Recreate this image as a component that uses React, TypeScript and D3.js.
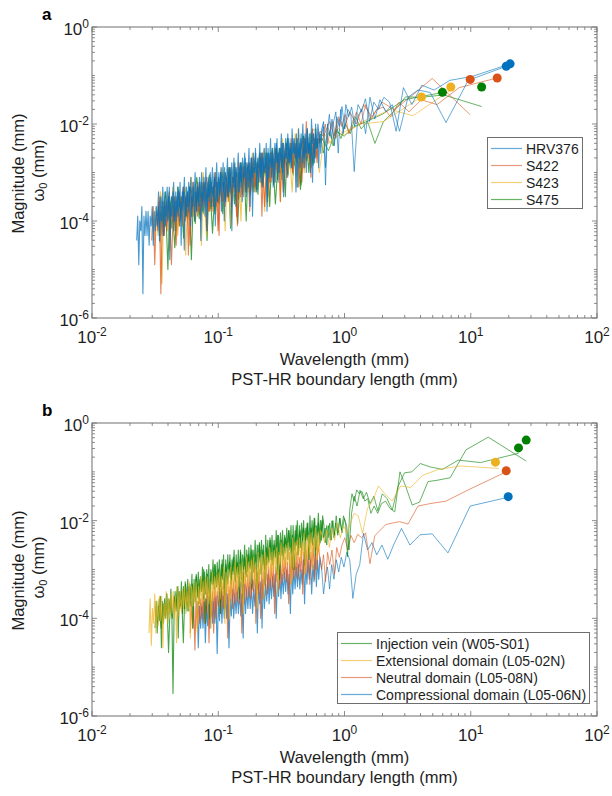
import React from "react";
import * as d3 from "d3";

// ---------------- shared ----------------
const COLORS: Record<string, string> = {
  blue: "#0072BD",
  orange: "#D95319",
  yellow: "#EDB120",
  green: "#008000",
};
// legend swatches are the line colours as they appear (semi-transparent on white)
const LEGEND_COLORS: Record<string, string> = {
  blue: "#66AAD7",
  orange: "#E8987A",
  yellow: "#F4D079",
  green: "#66B366",
};
const xTickExps = [-2, -1, 0, 1, 2];
const yTickExps = [0, -2, -4, -6];
const xLabel1 = "Wavelength (mm)";
const xLabel2 = "PST-HR boundary length (mm)";

// Each spectrum: boundary length L (mm); magnitudes (log10 mm) at harmonics k=1..K
// (wavelength L/k), then a dense tail of magnitudes (log10 mm) from L/(K+1) down to xMin.

// ---------------- panel a ----------------
const aLegendNames = ["HRV376", "S422", "S423", "S475"];
const aLegendColors = ["blue", "orange", "yellow", "green"];

const aBlue1L = 20.5;
const aBlue1Min = 0.0226;
const aBlue1Head = [-0.76,-1.02,-1.10,-1.30,-1.20,-1.60,-1.25,-2.15,-1.55,-1.45,-1.70,-1.55,-1.95,-1.48,-1.75,-1.60,-2.05,-1.65,-1.85,-1.60,-2.20,-1.70,-2.60,-1.75,-1.95,-2.30,-1.80,-2.10,-2.90,-1.95];
const aBlue1Tail = [
  -2.1,-2.6,-2.2,-2.9,-2.3,-2.5,-2.0,-2.8,-2.4,-3.2,
  -2.2,-2.7,-2.4,-2.6,-2.1,-3.0,-2.3,-2.7,-2.5,-2.8,
  -2.2,-2.9,-2.4,-2.7,-2.3,-3.4,-2.5,-2.6,-2.3,-2.9,
  -2.5,-2.8,-2.3,-3.1,-2.4,-2.7,-2.6,-3.5,-2.4,-2.9,
  -2.5,-3.0,-2.6,-2.8,-2.4,-3.2,-2.7,-3.3,-2.6,-2.9,
  -2.6,-3.1,-2.5,-3.8,-2.6,-3.0,-2.7,-3.3,-2.6,-3.1,
  -2.7,-3.2,-2.8,-3.4,-2.6,-3.0,-2.9,-3.9,-2.7,-3.2,
  -2.8,-3.3,-2.9,-3.5,-2.7,-3.1,-3.0,-3.6,-2.8,-3.3,
  -2.9,-3.4,-3.0,-3.7,-2.8,-3.3,-3.1,-4.2,-2.9,-3.4,
  -3.0,-3.5,-3.1,-3.6,-2.9,-3.4,-3.2,-3.8,-3.0,-3.5,
  -3.1,-3.6,-3.2,-4.1,-3.0,-3.5,-3.3,-3.7,-3.1,-3.6,
  -3.2,-3.7,-3.3,-3.9,-3.1,-3.6,-3.4,-4.4,-3.2,-3.7,
  -3.3,-3.8,-3.4,-4.0,-3.2,-3.7,-3.5,-4.1,-3.3,-3.8,
  -3.4,-3.9,-3.5,-4.6,-3.3,-3.8,-3.6,-4.0,-3.4,-3.9,
  -3.5,-4.0,-3.6,-4.2,-3.4,-3.9,-3.7,-4.8,-3.5,-4.0,
  -3.6,-4.1,-3.7,-4.3,-3.6,-4.0,-3.8,-4.4,-3.7,-4.1,
  -3.7,-4.2,-3.8,-4.5,-3.7,-4.1,-3.9,-4.5,-3.8,-4.3,
  -3.8,-4.3,-3.9,-5.5,-3.7,-4.2,-4.0,-4.9,-3.9,-4.4,
];

const aBlue2L = 19.1;
const aBlue2Min = 0.033;
const aBlue2Head = [-0.81,-1.10,-1.97,-1.35,-1.30,-1.45,-2.15,-1.60,-1.75,-1.50,-1.90,-1.45,-2.20,-1.70,-1.85,-2.98,-1.80,-1.70,-2.10,-1.64,-2.05,-1.85,-2.45,-1.90,-2.25,-2.00,-3.26,-2.05,-2.20,-2.40];
const aBlue2Tail = [
  -2.0,-2.5,-2.1,-2.7,-2.2,-2.4,-1.9,-3.0,-2.2,-2.6,
  -2.1,-2.6,-2.2,-2.9,-2.0,-2.5,-2.3,-2.7,-2.1,-3.3,
  -2.2,-2.7,-2.3,-2.6,-2.1,-2.9,-2.4,-2.8,-2.2,-2.7,
  -2.3,-2.8,-2.4,-3.0,-2.2,-2.7,-2.5,-3.2,-2.3,-2.8,
  -2.4,-2.9,-2.5,-3.1,-2.3,-2.8,-2.6,-3.6,-2.4,-2.9,
  -2.5,-3.0,-2.6,-3.2,-2.4,-2.9,-2.7,-3.3,-2.5,-3.0,
  -2.6,-3.1,-2.7,-3.7,-2.5,-3.0,-2.8,-3.4,-2.6,-3.1,
  -2.7,-3.2,-2.8,-3.4,-2.6,-3.1,-2.9,-3.5,-2.7,-3.2,
  -2.8,-3.3,-2.9,-3.5,-2.7,-3.2,-3.0,-4.0,-2.8,-3.3,
  -2.9,-3.4,-3.0,-3.6,-2.8,-3.3,-3.1,-3.7,-2.9,-3.4,
  -3.0,-3.5,-3.1,-4.2,-2.9,-3.4,-3.2,-3.8,-3.0,-3.5,
  -3.1,-3.6,-3.2,-3.8,-3.0,-3.5,-3.3,-3.9,-3.1,-3.6,
  -3.2,-3.7,-3.3,-3.9,-3.1,-3.6,-3.4,-4.5,-3.2,-3.7,
  -3.3,-3.8,-3.4,-4.0,-3.2,-3.7,-3.5,-4.1,-3.3,-3.8,
  -3.3,-3.9,-3.4,-4.1,-3.3,-3.8,-3.5,-4.3,-3.4,-3.9,
];

const aOrange1L = 16.2;
const aOrange1Min = 0.0297;
const aOrange1Head = [-1.05,-1.25,-1.60,-1.50,-1.75,-1.55,-1.85,-1.65,-1.70,-1.90,-1.60,-2.00,-1.75,-1.95,-2.20,-1.80,-2.05,-1.90,-2.30,-1.95,-2.10,-2.40,-2.00,-2.25,-2.15];
const aOrange1Tail = [
  -2.2,-2.8,-2.3,-2.6,-2.1,-3.1,-2.4,-2.7,-1.95,-2.9,
  -2.3,-2.9,-2.4,-3.3,-2.3,-2.7,-2.5,-3.0,-2.3,-2.8,
  -2.5,-3.1,-2.6,-2.9,-2.4,-3.6,-2.6,-3.0,-2.5,-3.2,
  -2.6,-3.2,-2.7,-3.5,-2.6,-3.0,-2.8,-3.9,-2.6,-3.2,
  -2.8,-3.4,-2.9,-3.3,-2.7,-3.8,-2.9,-3.4,-2.8,-3.5,
  -2.9,-3.5,-3.0,-4.1,-2.9,-3.4,-3.1,-3.7,-2.9,-3.6,
  -3.1,-3.7,-3.2,-3.6,-3.0,-4.3,-3.2,-3.7,-3.1,-3.8,
  -3.2,-3.8,-3.3,-4.2,-3.2,-3.7,-3.4,-4.0,-3.2,-3.9,
  -3.4,-4.0,-3.5,-3.9,-3.3,-4.7,-3.5,-4.0,-3.4,-4.1,
  -3.5,-4.1,-3.6,-4.5,-3.5,-4.0,-3.7,-4.3,-3.5,-4.2,
  -3.7,-4.3,-3.8,-5.5,-3.6,-4.2,-3.8,-4.9,-3.7,-4.4,
];

const aOrange2L = 9.9;
const aOrange2Min = 0.033;
const aOrange2Head = [-1.81,-1.06,-1.45,-1.70,-1.55,-1.85,-1.60,-2.00,-1.75,-2.10,-1.85,-2.25,-1.95,-2.15,-2.35];
const aOrange2Tail = [
  -2.3,-2.7,-2.2,-2.9,-2.4,-2.6,-2.3,-3.2,-2.5,-2.8,
  -2.4,-3.0,-2.5,-2.8,-2.4,-3.4,-2.6,-2.9,-2.5,-3.1,
  -2.6,-3.2,-2.7,-3.7,-2.6,-3.0,-2.8,-3.3,-2.7,-3.4,
  -2.8,-3.4,-2.9,-3.2,-2.8,-3.9,-3.0,-3.4,-2.9,-3.5,
  -3.0,-3.6,-3.1,-4.2,-3.0,-3.5,-3.2,-3.8,-3.1,-3.6,
  -3.2,-3.8,-3.3,-3.7,-3.2,-4.5,-3.4,-3.8,-3.3,-3.9,
  -3.4,-4.0,-3.5,-4.9,-3.4,-3.9,-3.6,-4.3,-3.5,-4.1,
];

const aYellow1L = 6.95;
const aYellow1Min = 0.031;
const aYellow1Head = [-1.30,-1.83,-1.70,-1.85,-1.95,-2.10,-2.23,-2.05,-2.40,-2.20,-3.00,-2.10];
const aYellow1Tail = [
  -2.2,-2.8,-2.3,-3.0,-2.4,-2.6,-2.1,-3.3,-2.4,-2.7,
  -2.4,-3.0,-2.5,-2.8,-2.3,-3.6,-2.6,-2.9,-2.5,-3.1,
  -2.6,-3.2,-2.7,-3.8,-2.6,-3.0,-2.8,-3.3,-2.7,-3.4,
  -2.8,-3.4,-2.9,-3.2,-2.8,-4.0,-3.0,-3.4,-2.9,-3.5,
  -3.0,-3.6,-3.1,-4.2,-3.0,-3.5,-3.2,-3.8,-3.1,-3.6,
  -3.2,-3.8,-3.3,-3.7,-3.2,-4.5,-3.4,-3.8,-3.3,-3.9,
  -3.4,-4.0,-3.5,-4.7,-3.4,-3.9,-3.6,-4.3,-3.5,-4.1,
  -3.6,-4.2,-3.7,-4.1,-3.6,-5.3,-3.8,-4.3,-3.7,-4.4,
];

const aYellow2L = 4.07;
const aYellow2Min = 0.033;
const aYellow2Head = [-1.44,-1.95,-2.00,-2.15,-2.30,-2.50,-2.35];
const aYellow2Tail = [
  -2.3,-2.9,-2.4,-2.7,-2.2,-3.4,-2.5,-2.8,-2.4,-3.0,
  -2.5,-3.1,-2.6,-3.7,-2.5,-2.9,-2.7,-3.2,-2.6,-3.3,
  -2.8,-3.4,-2.9,-3.2,-2.8,-4.1,-3.0,-3.4,-2.9,-3.5,
  -3.0,-3.6,-3.1,-4.3,-3.0,-3.5,-3.2,-3.8,-3.1,-3.6,
  -3.3,-3.9,-3.4,-3.8,-3.3,-4.6,-3.5,-3.9,-3.4,-4.0,
];

const aGreen1L = 12.2;
const aGreen1Min = 0.0346;
const aGreen1Head = [-1.64,-1.40,-1.45,-1.44,-1.75,-1.95,-2.40,-1.95,-2.10,-1.85,-2.20,-2.00,-2.30,-2.10,-2.45,-2.15,-2.30,-2.60,-2.20,-2.50];
const aGreen1Tail = [
  -2.3,-2.75,-2.2,-3.0,-2.45,-2.65,-2.25,-3.25,-2.5,-2.8,
  -2.4,-3.05,-2.55,-2.85,-2.3,-3.5,-2.65,-2.9,-2.5,-3.15,
  -2.6,-3.25,-2.7,-3.7,-2.6,-3.05,-2.85,-3.3,-2.7,-3.45,
  -2.8,-3.4,-2.95,-3.2,-2.85,-4.0,-3.0,-3.45,-2.9,-3.55,
  -3.0,-3.65,-3.1,-4.15,-3.05,-3.5,-3.2,-3.85,-3.1,-3.6,
  -3.2,-3.85,-3.3,-3.75,-3.25,-4.4,-3.4,-3.85,-3.3,-3.95,
  -3.4,-4.05,-3.5,-4.8,-3.45,-3.9,-3.6,-4.35,-3.5,-4.1,
  -3.6,-4.2,-3.7,-4.15,-3.6,-5.0,-3.8,-4.3,-3.7,-4.45,
];

const aGreen2L = 5.97;
const aGreen2Min = 0.036;
const aGreen2Head = [-1.35,-1.50,-1.80,-1.95,-2.05,-2.25,-2.15,-2.55,-2.30];
const aGreen2Tail = [
  -2.35,-2.85,-2.45,-2.75,-2.25,-3.35,-2.55,-2.85,-2.4,-3.05,
  -2.55,-3.15,-2.65,-3.65,-2.5,-2.95,-2.75,-3.25,-2.6,-3.35,
  -2.8,-3.45,-2.9,-3.25,-2.8,-4.05,-3.0,-3.45,-2.9,-3.55,
  -3.0,-3.65,-3.1,-4.25,-3.05,-3.55,-3.2,-3.85,-3.1,-3.65,
  -3.3,-3.95,-3.4,-3.85,-3.3,-4.55,-3.5,-3.95,-3.4,-4.05,
];

// markers: boundary length (mm) vs magnitude (mm)
const aMarkColor = ["blue", "blue", "orange", "orange", "yellow", "yellow", "green", "green"];
const aMarkX = [19.1, 20.5, 9.9, 16.2, 4.07, 6.95, 5.97, 12.2];
const aMarkY = [0.155, 0.174, 0.083, 0.089, 0.036, 0.058, 0.045, 0.058];

// ---------------- panel b ----------------
const bLegendNames = [
  "Injection vein (W05-S01)",
  "Extensional domain (L05-02N)",
  "Neutral domain (L05-08N)",
  "Compressional domain (L05-06N)",
];
const bLegendColors = ["green", "yellow", "orange", "blue"];

const bGreen1L = 27.5;
const bGreen1Min = 0.0316;
const bGreen1Head = [-0.78,-0.29,-0.55,-1.12,-1.17,-1.20,-1.62,-1.68,-1.30,-1.00,-1.82,-1.75,-1.60,-1.65,-1.85,-1.70,-1.85,-1.55,-1.60,-1.40,-1.45,-1.37,-1.60,-1.45,-1.78,-2.74,-2.05,-1.90,-2.20,-1.95,-2.25,-1.90,-2.30,-2.00,-2.40,-2.05,-2.35,-2.10,-2.45,-2.10];
const bGreen1Tail = [
  -1.9,-2.4,-2.0,-2.5,-1.85,-2.3,-2.1,-2.7,-1.95,-2.35,
  -2.0,-2.45,-1.9,-2.6,-2.05,-2.4,-2.15,-2.9,-2.0,-2.4,
  -2.05,-2.55,-2.1,-2.7,-2.0,-2.5,-2.2,-2.6,-2.1,-3.0,
  -2.1,-2.6,-2.2,-2.8,-2.15,-2.65,-2.3,-2.75,-2.2,-2.7,
  -2.25,-2.7,-2.3,-3.1,-2.2,-2.75,-2.4,-2.85,-2.3,-2.8,
  -2.35,-2.85,-2.4,-2.9,-2.3,-3.3,-2.5,-2.9,-2.4,-2.85,
  -2.45,-2.95,-2.5,-3.0,-2.4,-2.9,-2.6,-3.4,-2.5,-2.95,
  -2.55,-3.05,-2.6,-3.1,-2.5,-3.0,-2.7,-3.2,-2.6,-3.6,
  -2.6,-3.15,-2.7,-3.2,-2.6,-3.1,-2.8,-3.3,-2.7,-3.15,
  -2.7,-3.25,-2.8,-3.8,-2.7,-3.2,-2.9,-3.35,-2.8,-3.3,
  -2.85,-3.35,-2.9,-3.4,-2.8,-3.3,-3.0,-4.0,-2.9,-3.4,
  -3.0,-3.5,-3.05,-3.6,-2.95,-3.45,-3.15,-3.7,-3.05,-3.55,
  -3.15,-3.65,-3.2,-4.2,-3.1,-3.6,-3.3,-3.85,-3.2,-3.7,
  -3.3,-3.8,-3.35,-3.9,-3.25,-3.75,-3.45,-4.4,-3.35,-3.85,
  -3.45,-3.95,-5.54,-4.0,-3.4,-3.9,-3.6,-4.1,-3.5,-4.0,
  -3.6,-4.1,-3.65,-4.6,-3.55,-4.05,-3.75,-4.3,-3.65,-4.2,
];

const bGreen2L = 23.9;
const bGreen2Min = 0.033;
const bGreen2Head = [-0.62,-0.81,-0.76,-0.95,-0.90,-0.83,-1.00,-1.02,-1.30,-1.78,-1.55,-1.45,-1.80,-1.50,-1.65,-1.42,-1.55,-1.38,-1.70,-1.50,-1.85,-2.60,-2.10,-1.95,-2.25,-1.95,-2.30,-2.05,-2.35,-2.00,-2.40,-2.10,-2.50,-2.15,-2.35];
const bGreen2Tail = [
  -2.0,-2.45,-2.05,-2.6,-1.95,-2.5,-2.15,-2.8,-2.05,-2.4,
  -2.15,-2.6,-2.2,-2.7,-2.1,-3.0,-2.3,-2.65,-2.2,-2.55,
  -2.35,-2.8,-2.4,-3.2,-2.3,-2.75,-2.5,-2.9,-2.4,-2.85,
  -2.55,-3.0,-2.6,-3.1,-2.5,-3.4,-2.7,-3.05,-2.6,-3.0,
  -2.7,-3.15,-2.75,-3.6,-2.65,-3.1,-2.85,-3.25,-2.75,-3.2,
  -2.85,-3.3,-2.9,-3.4,-2.8,-3.9,-3.0,-3.35,-2.9,-3.3,
  -3.05,-3.5,-3.1,-4.1,-3.0,-3.45,-3.2,-3.6,-3.1,-3.55,
  -3.3,-3.75,-3.35,-3.85,-3.25,-4.5,-3.45,-3.8,-3.35,-3.8,
  -3.55,-4.0,-3.6,-4.7,-3.5,-3.95,-3.7,-4.2,-3.6,-4.1,
];

const bYellowL = 16.7;
const bYellowMin = 0.0283;
const bYellowHead = [-0.93,-0.88,-0.95,-1.07,-1.32,-1.29,-1.60,-1.45,-1.29,-1.60,-1.75,-2.26,-1.90,-1.85,-2.05,-2.25,-2.10,-2.35,-2.05,-2.40,-2.15,-2.55,-2.20,-2.45,-2.30];
const bYellowTail = [
  -2.2,-2.65,-2.25,-2.8,-2.15,-2.6,-2.35,-3.0,-2.25,-2.7,
  -2.3,-2.75,-2.35,-3.1,-2.25,-2.7,-2.45,-2.85,-2.35,-2.8,
  -2.4,-2.85,-2.45,-2.95,-2.35,-3.3,-2.55,-2.9,-2.45,-2.9,
  -2.5,-2.95,-2.55,-3.05,-2.45,-2.9,-2.65,-3.5,-2.55,-3.0,
  -2.6,-3.05,-2.65,-3.15,-2.55,-3.0,-2.75,-3.2,-2.65,-3.6,
  -2.7,-3.15,-2.75,-3.25,-2.65,-3.8,-2.85,-3.3,-2.75,-3.2,
  -2.8,-3.25,-2.85,-3.35,-2.75,-3.3,-2.95,-3.9,-2.85,-3.3,
  -2.9,-3.35,-2.95,-3.45,-2.85,-3.4,-3.05,-3.5,-2.95,-4.0,
  -3.0,-3.45,-3.05,-4.1,-2.95,-3.5,-3.15,-3.6,-3.05,-3.5,
  -3.1,-3.55,-3.15,-3.65,-3.05,-4.2,-3.25,-3.7,-3.15,-3.6,
  -3.2,-3.65,-3.25,-3.75,-3.15,-3.7,-3.35,-4.3,-3.25,-3.7,
  -3.3,-3.75,-3.35,-4.4,-3.25,-3.8,-3.45,-3.9,-3.35,-3.8,
  -3.4,-3.85,-3.45,-3.95,-3.35,-4.5,-3.55,-4.0,-3.45,-3.9,
  -3.5,-4.0,-3.6,-4.1,-3.45,-4.0,-3.7,-4.6,-3.55,-4.05,
  -3.55,-4.15,-3.65,-4.3,-3.5,-4.1,-3.8,-4.55,-3.6,-4.3,
];

const bOrangeL = 19.1;
const bOrangeMin = 0.06;
const bOrangeHead = [-1.00,-1.37,-1.60,-1.65,-1.70,-2.07,-2.02,-2.05,-2.08,-2.20,-2.31,-2.88,-2.25,-2.35,-2.28,-2.45,-2.30,-2.60,-2.35,-2.50,-2.75,-2.55,-3.10,-2.60,-2.90,-2.65,-3.25,-2.70,-3.00,-2.75];
const bOrangeTail = [
  -2.5,-3.0,-2.55,-3.2,-2.45,-2.95,-2.65,-3.3,-2.55,-3.05,
  -2.6,-3.1,-2.65,-3.5,-2.55,-3.05,-2.75,-3.2,-2.65,-3.15,
  -2.7,-3.2,-2.75,-3.3,-2.65,-3.7,-2.85,-3.25,-2.75,-3.2,
  -2.8,-3.3,-2.85,-3.4,-2.75,-3.25,-2.95,-3.9,-2.85,-3.35,
  -2.9,-3.4,-2.95,-3.5,-2.85,-3.35,-3.05,-3.6,-2.95,-4.0,
  -3.0,-3.5,-3.05,-4.1,-2.95,-3.45,-3.15,-3.6,-3.05,-3.55,
  -3.1,-3.6,-3.15,-3.7,-3.05,-4.3,-3.25,-3.7,-3.15,-3.65,
  -3.2,-3.7,-3.25,-3.8,-3.15,-3.65,-3.35,-4.4,-3.25,-3.75,
  -3.3,-3.8,-3.35,-3.9,-3.25,-3.75,-3.45,-4.0,-3.35,-4.3,
  -3.45,-3.95,-3.5,-4.5,-3.4,-3.9,-3.6,-4.1,-3.5,-4.0,
  -3.6,-4.1,-3.65,-4.2,-3.55,-4.65,-3.75,-4.2,-3.65,-4.3,
];

const bBlueL = 19.8;
const bBlueMin = 0.068;
const bBlueHead = [-1.52,-1.70,-2.66,-2.27,-2.29,-2.50,-2.16,-2.47,-2.79,-2.50,-2.70,-2.45,-2.60,-2.26,-2.90,-3.10,-3.59,-2.80,-2.65,-2.95,-2.75,-3.05,-2.80,-3.20,-2.90,-3.40,-2.95,-3.15,-3.50,-3.00];
const bBlueTail = [
  -2.75,-3.2,-2.8,-3.35,-2.7,-3.25,-2.9,-3.5,-2.8,-3.2,
  -2.85,-3.3,-2.9,-3.7,-2.8,-3.3,-3.0,-3.4,-2.9,-3.35,
  -2.95,-3.4,-3.0,-3.5,-2.9,-3.9,-3.1,-3.5,-3.0,-3.45,
  -3.05,-3.5,-3.1,-3.6,-3.0,-3.55,-3.2,-4.0,-3.1,-3.55,
  -3.15,-3.6,-3.2,-3.7,-3.1,-3.65,-3.3,-3.8,-3.2,-4.2,
  -3.25,-3.7,-3.3,-4.3,-3.2,-3.75,-3.4,-3.9,-3.3,-3.8,
  -3.35,-3.8,-3.4,-3.9,-3.3,-4.4,-3.5,-3.95,-3.4,-3.9,
  -3.45,-3.9,-3.5,-4.0,-3.4,-3.95,-3.6,-4.6,-3.5,-4.0,
  -3.5,-4.0,-3.55,-4.1,-3.45,-4.05,-3.65,-4.72,-3.55,-4.1,
  -3.6,-4.1,-3.65,-4.2,-3.55,-4.15,-3.75,-4.5,-3.65,-4.2,
  -3.7,-4.2,-3.75,-4.6,-3.65,
];

const bMarkColor = ["green", "green", "yellow", "orange", "blue"];
const bMarkX = [27.5, 23.9, 15.7, 19.1, 19.8];
const bMarkY = [0.447, 0.309, 0.158, 0.105, 0.031];

// ---------------- tables ----------------
type Spec = { color: string; L: number; head: number[]; tail: number[]; xMin: number };

const aSpectra: Spec[] = [
  { color: "green", L: aGreen1L, head: aGreen1Head, tail: aGreen1Tail, xMin: aGreen1Min },
  { color: "green", L: aGreen2L, head: aGreen2Head, tail: aGreen2Tail, xMin: aGreen2Min },
  { color: "yellow", L: aYellow1L, head: aYellow1Head, tail: aYellow1Tail, xMin: aYellow1Min },
  { color: "yellow", L: aYellow2L, head: aYellow2Head, tail: aYellow2Tail, xMin: aYellow2Min },
  { color: "orange", L: aOrange1L, head: aOrange1Head, tail: aOrange1Tail, xMin: aOrange1Min },
  { color: "orange", L: aOrange2L, head: aOrange2Head, tail: aOrange2Tail, xMin: aOrange2Min },
  { color: "blue", L: aBlue1L, head: aBlue1Head, tail: aBlue1Tail, xMin: aBlue1Min },
  { color: "blue", L: aBlue2L, head: aBlue2Head, tail: aBlue2Tail, xMin: aBlue2Min },
];

const bSpectra: Spec[] = [
  { color: "blue", L: bBlueL, head: bBlueHead, tail: bBlueTail, xMin: bBlueMin },
  { color: "orange", L: bOrangeL, head: bOrangeHead, tail: bOrangeTail, xMin: bOrangeMin },
  { color: "green", L: bGreen1L, head: bGreen1Head, tail: bGreen1Tail, xMin: bGreen1Min },
  { color: "green", L: bGreen2L, head: bGreen2Head, tail: bGreen2Tail, xMin: bGreen2Min },
  { color: "yellow", L: bYellowL, head: bYellowHead, tail: bYellowTail, xMin: bYellowMin },
];

// head points at wavelength L/k; tail points on a log-spaced wavelength grid
function headPoints(s: Spec): [number, number][] {
  return s.head.map((v, i) => [s.L / (i + 1), Math.pow(10, v)] as [number, number]);
}
function tailPoints(s: Spec): [number, number][] {
  const x0 = s.L / (s.head.length + 1);
  const n = s.tail.length;
  const grid = d3.scaleLinear().domain([0, n - 1]).range([Math.log10(x0), Math.log10(s.xMin)]);
  const last = s.head[s.head.length - 1];
  const pts: [number, number][] = [[s.L / s.head.length, Math.pow(10, last)]];
  s.tail.forEach((v, j) => pts.push([Math.pow(10, grid(j)), Math.pow(10, v)]));
  return pts;
}

// ---------------- layout ----------------
const FONT = "'Liberation Sans', Arial, Helvetica, sans-serif";
const X0 = 92;
const X1 = 597;
const AXIS_COLOR = "#6e6e6e";
const TEXT_COLOR = "#1e1e1e";

type PanelProps = {
  top: number;
  bottom: number;
  letter: string;
  spectra: Spec[];
  markColor: string[];
  markX: number[];
  markY: number[];
  legendNames: string[];
  legendColors: string[];
  legendBox: { x: number; y: number; w: number; h: number; lineX0: number; lineX1: number; textX: number };
};

function Panel(p: PanelProps) {
  const x = d3.scaleLog().domain([1e-2, 1e2]).range([X0, X1]);
  const y = d3.scaleLog().domain([1e-6, 1]).range([p.bottom, p.top]);
  const line = d3
    .line<[number, number]>()
    .x((d) => x(d[0]))
    .y((d) => y(d[1]));
  const midY = (p.top + p.bottom) / 2;

  const xTicks: { v: number; major: boolean }[] = [];
  for (let e = -2; e < 2; e++) {
    for (let m = 1; m <= 9; m++) xTicks.push({ v: m * Math.pow(10, e), major: m === 1 });
  }
  xTicks.push({ v: 100, major: true });
  const yTicks: { v: number; major: boolean }[] = [];
  for (let e = -6; e < 0; e++) {
    for (let m = 1; m <= 9; m++) yTicks.push({ v: m * Math.pow(10, e), major: m === 1 && e % 2 === 0 });
  }
  yTicks.push({ v: 1, major: true });

  const tickPath: string[] = [];
  xTicks.forEach((t) => {
    const px = x(t.v);
    const len = t.major ? 5 : 3;
    tickPath.push(`M${px},${p.bottom}V${p.bottom - len}M${px},${p.top}V${p.top + len}`);
  });
  yTicks.forEach((t) => {
    const py = y(t.v);
    const len = t.major ? 5 : 3;
    tickPath.push(`M${X0},${py}H${X0 + len}M${X1},${py}H${X1 - len}`);
  });

  const lb = p.legendBox;
  return (
    <g>
      <text x={42} y={p.top - 7} fontFamily={FONT} fontWeight="bold" fontSize={17} fill="#000">
        {p.letter}
      </text>
      {p.spectra.map((s, i) => (
        <g key={i}>
          <path
            d={line(tailPoints(s)) || ""}
            fill="none"
            stroke={COLORS[s.color]}
            strokeOpacity={0.72}
            strokeWidth={1.1}
            strokeLinejoin="round"
          />
          <path
            d={line(headPoints(s)) || ""}
            fill="none"
            stroke={COLORS[s.color]}
            strokeOpacity={0.6}
            strokeWidth={1}
            strokeLinejoin="round"
          />
        </g>
      ))}
      {p.markX.map((mx, i) => (
        <circle key={i} cx={x(mx)} cy={y(p.markY[i])} r={4.5} fill={COLORS[p.markColor[i]]} />
      ))}
      <rect x={X0} y={p.top} width={X1 - X0} height={p.bottom - p.top} fill="none" stroke={AXIS_COLOR} strokeWidth={1} />
      <path d={tickPath.join("")} stroke={AXIS_COLOR} strokeWidth={0.8} fill="none" />
      {xTickExps.map((e) => (
        <text
          key={e}
          x={x(Math.pow(10, e))}
          y={p.bottom + 25}
          textAnchor="middle"
          fontFamily={FONT}
          fontSize={17}
          fill={TEXT_COLOR}
        >
          10
          <tspan dy={-7} fontSize={12}>
            {String(e)}
          </tspan>
        </text>
      ))}
      {yTickExps.map((e) => (
        <text
          key={e}
          x={89}
          y={y(Math.pow(10, e)) + 8}
          textAnchor="end"
          fontFamily={FONT}
          fontSize={17}
          fill={TEXT_COLOR}
        >
          10
          <tspan dy={-7} fontSize={12}>
            {String(e)}
          </tspan>
        </text>
      ))}
      <text x={(X0 + X1) / 2} y={p.bottom + 47} textAnchor="middle" fontFamily={FONT} fontSize={16.5} fill={TEXT_COLOR}>
        {xLabel1}
      </text>
      <text x={(X0 + X1) / 2} y={p.bottom + 67} textAnchor="middle" fontFamily={FONT} fontSize={16.5} fill={TEXT_COLOR}>
        {xLabel2}
      </text>
      <text
        transform={`translate(24,${midY + 1}) rotate(-90)`}
        textAnchor="middle"
        fontFamily={FONT}
        fontSize={16.5}
        fill={TEXT_COLOR}
      >
        Magnitude (mm)
      </text>
      <text
        transform={`translate(44,${midY - 2}) rotate(-90)`}
        textAnchor="middle"
        fontFamily={FONT}
        fontSize={16.5}
        fill={TEXT_COLOR}
      >
        ω
        <tspan dy={3} fontSize={11}>
          0
        </tspan>
        <tspan dy={-3}> (mm)</tspan>
      </text>
      <rect x={lb.x} y={lb.y} width={lb.w} height={lb.h} fill="#fff" stroke={AXIS_COLOR} strokeWidth={1} />
      {p.legendNames.map((name, i) => {
        const cy = lb.y + 11 + i * 17;
        return (
          <g key={name}>
            <rect x={lb.lineX0} y={cy - 0.6} width={lb.lineX1 - lb.lineX0} height={1.2} fill={LEGEND_COLORS[p.legendColors[i]]} />
            <text x={lb.textX} y={cy + 5} fontFamily={FONT} fontSize={14} fill={TEXT_COLOR}>
              {name}
            </text>
          </g>
        );
      })}
    </g>
  );
}

export default function App() {
  return (
    <svg
      width={612}
      height={796}
      viewBox="0 0 612 796"
      style={{ position: "absolute", left: 0, top: 0, background: "#fff" }}
    >
      <rect x={0} y={0} width={612} height={796} fill="#fff" />
      <Panel
        top={27}
        bottom={318}
        letter="a"
        spectra={aSpectra}
        markColor={aMarkColor}
        markX={aMarkX}
        markY={aMarkY}
        legendNames={aLegendNames}
        legendColors={aLegendColors}
        legendBox={{ x: 487.5, y: 137.5, w: 95, h: 71, lineX0: 491, lineX1: 522, textX: 526 }}
      />
      <Panel
        top={423}
        bottom={716}
        letter="b"
        spectra={bSpectra}
        markColor={bMarkColor}
        markX={bMarkX}
        markY={bMarkY}
        legendNames={bLegendNames}
        legendColors={bLegendColors}
        legendBox={{ x: 337.5, y: 632.5, w: 252, h: 71, lineX0: 341, lineX1: 372, textX: 376 }}
      />
    </svg>
  );
}
